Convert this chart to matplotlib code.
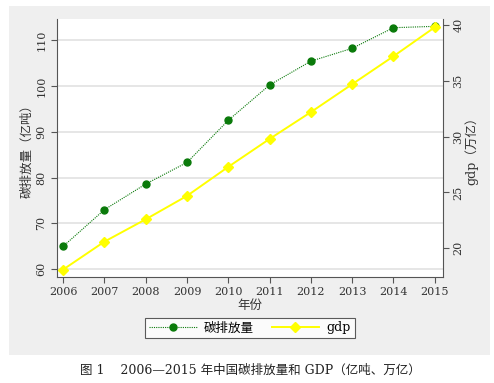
import matplotlib.pyplot as plt
from matplotlib.patches import Rectangle
from matplotlib.lines import Line2D

plt.rcParams['font.family'] = ['DejaVu Serif', 'Noto Sans CJK SC']

# data
years = [2006, 2007, 2008, 2009, 2010, 2011, 2012, 2013, 2014, 2015]
carbon = [65.0, 73.0, 78.6, 83.3, 92.5, 100.2, 105.4, 108.2, 112.7, 113.0]
gdp = [18.1, 20.6, 22.6, 24.7, 27.3, 29.8, 32.2, 34.7, 37.2, 39.8]
left_ticks = [60, 70, 80, 90, 100, 110]
right_ticks = [20, 25, 30, 35, 40]

fig = plt.figure(figsize=(4.94, 3.83), dpi=100)
fig.patch.set_facecolor('white')

# grey outer region
fig.patches.append(Rectangle((9 / 494, 28 / 383), 481 / 494, 349 / 383,
                             transform=fig.transFigure, facecolor='#efefef',
                             edgecolor='none', zorder=-10))

ax = fig.add_axes([57 / 494, 106 / 383, 386 / 494, 258 / 383])
ax.set_facecolor('white')
ax2 = ax.twinx()

ax.plot(years, carbon, color='#0a7a0a', linestyle=(0, (1, 1)), linewidth=0.8,
        marker='o', markersize=5, markerfacecolor='#0a7a0a',
        markeredgecolor='#0a7a0a', zorder=3)
ax2.plot(years, gdp, color='#ffff00', linewidth=1.4, marker='D',
         markersize=5.5, markerfacecolor='#ffff00', markeredgecolor='#ffff00')

ax.set_ylim(58.3, 114.6)
ax2.set_ylim(17.43, 40.54)
ax.set_xlim(2005.85, 2015.2)
ax.set_yticks(left_ticks)
ax2.set_yticks(right_ticks)
ax.set_xticks(years)

ax.grid(axis='y', color='#e4e4e4', linewidth=1.3)
ax.set_axisbelow(True)

for a in (ax, ax2):
    a.spines['top'].set_visible(False)
    for s in ('left', 'right', 'bottom'):
        a.spines[s].set_color('#555555')
        a.spines[s].set_linewidth(0.8)
    a.tick_params(colors='#555555', labelcolor='#333333', labelsize=8,
                  length=4, width=0.8)
ax.spines['right'].set_visible(False)
ax2.spines['left'].set_visible(False)
ax2.spines['bottom'].set_visible(False)

for t in ax.get_yticklabels():
    t.set_rotation(90)
    t.set_va('center')
for t in ax2.get_yticklabels():
    t.set_rotation(90)
    t.set_va('center')

ax.set_xlabel('年份', fontsize=9, color='#333333', labelpad=1)
ax.set_ylabel('碳排放量（亿吨）', fontsize=9, color='#333333', labelpad=2)
ax2.set_ylabel('gdp（万亿）', fontsize=9, color='#333333', labelpad=1)

handles = [
    Line2D([], [], color='#0a7a0a', linestyle=(0, (1, 1)), linewidth=0.8,
           marker='o', markersize=5),
    Line2D([], [], color='#ffff00', linewidth=1.4, marker='D',
           markersize=5.5),
]
leg = fig.legend(handles, ['碳排放量', 'gdp'], loc='center',
                 bbox_to_anchor=(250 / 494, 55 / 383), ncol=2, fontsize=9,
                 frameon=True, fancybox=False, handlelength=3.8,
                 handletextpad=0.6, columnspacing=1.4, borderpad=0.3,
                 borderaxespad=0, facecolor='white', edgecolor='#333333')
leg.get_frame().set_linewidth(0.8)

fig.text(250 / 494, 13 / 383,
         '图 1    2006—2015 年中国碳排放量和 GDP（亿吨、万亿）',
         ha='center', va='center', fontsize=9, color='#222222')

fig.savefig('out.png', dpi=100)
